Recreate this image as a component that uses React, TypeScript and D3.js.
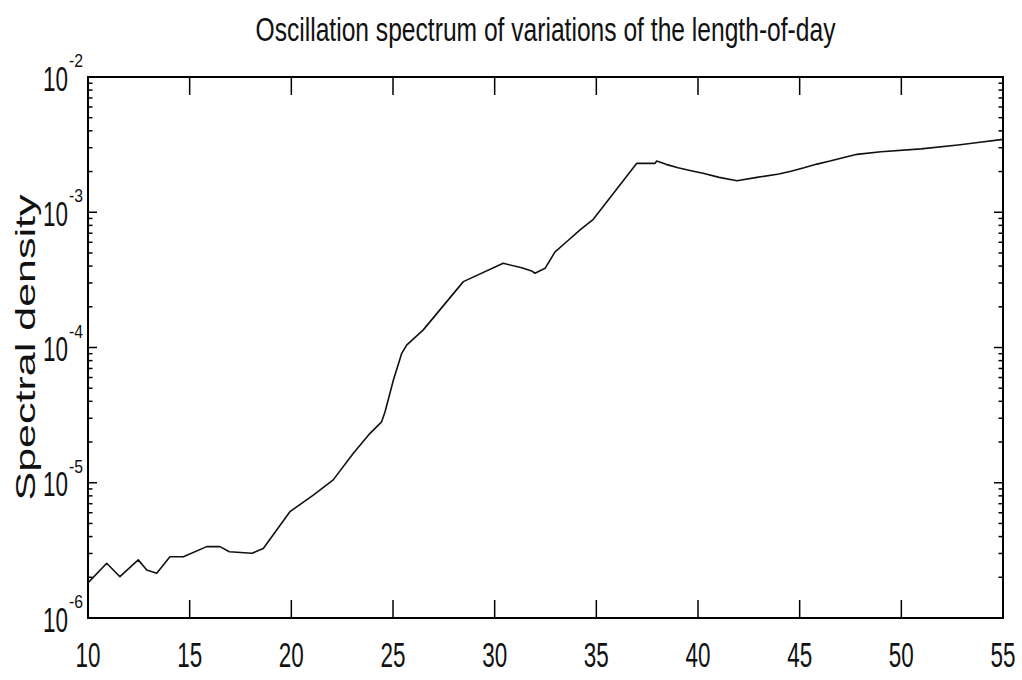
import React from "react";
import * as d3 from "d3";

const periods: number[] = [10, 10.92, 11.57, 12.47, 12.89, 13.38, 14.03, 14.69, 15.84, 16.49, 16.95, 18.07, 18.62, 19.93, 21.08, 22.06, 23.05, 23.87, 24.44, 24.61, 25.02, 25.43, 25.67, 26.49, 28.46, 30.42, 31.33, 31.82, 31.98, 32.48, 32.97, 33.54, 34.2, 34.85, 36.99, 37.89, 37.97, 38.43, 39.02, 39.66, 40.25, 41.04, 41.92, 42.9, 43.98, 44.62, 45.21, 45.85, 46.49, 47.13, 47.82, 49.0, 50.97, 52.79, 53.87, 55];
const density: number[] = [1.82e-6, 2.54e-6, 2.02e-6, 2.69e-6, 2.26e-6, 2.14e-6, 2.84e-6, 2.84e-6, 3.37e-6, 3.37e-6, 3.09e-6, 3.01e-6, 3.27e-6, 6.11e-6, 8.11e-6, 1.05e-5, 1.65e-5, 2.32e-5, 2.82e-5, 3.35e-5, 5.75e-5, 9.06e-5, 1.04e-4, 1.35e-4, 3.07e-4, 4.19e-4, 3.89e-4, 3.68e-4, 3.54e-4, 3.85e-4, 5.1e-4, 6.05e-4, 7.4e-4, 8.87e-4, 2.3e-3, 2.3e-3, 2.39e-3, 2.26e-3, 2.13e-3, 2.03e-3, 1.94e-3, 1.81e-3, 1.71e-3, 1.81e-3, 1.92e-3, 2.02e-3, 2.13e-3, 2.27e-3, 2.39e-3, 2.53e-3, 2.68e-3, 2.8e-3, 2.94e-3, 3.14e-3, 3.29e-3, 3.46e-3];

const xTicks: number[] = [10, 15, 20, 25, 30, 35, 40, 45, 50, 55];
const yExponents: number[] = [-6, -5, -4, -3, -2];
const minorMultipliers: number[] = [2, 3, 4, 5, 6, 7, 8, 9];

const title = "Oscillation spectrum of variations of the length-of-day";
const yLabel = "Spectral density";

const W = 1022;
const H = 680;
const L = 88, R = 1003, T = 77, B = 618;
const FONT = "'Liberation Sans', Arial, Helvetica, sans-serif";

export default function App() {
  const x = d3.scaleLinear().domain([10, 55]).range([L, R]);
  const y = d3.scaleLog().domain([1e-6, 1e-2]).range([B, T]);
  const pts = periods.map((p, i) => [p, density[i]] as [number, number]);
  const line = d3.line<[number, number]>().x(d => x(d[0])).y(d => y(d[1]));

  const minors: number[] = [];
  yExponents.slice(0, -1).forEach(e => minorMultipliers.forEach(m => minors.push(m * Math.pow(10, e))));

  return (
    <div style={{ position: "absolute", left: 0, top: 0 }}>
      <svg width={W} height={H} style={{ display: "block", background: "#fff" }}>
        <rect x={0} y={0} width={W} height={H} fill="#fff" />
        <text x={(L + R) / 2} y={41} textAnchor="middle" fontFamily={FONT} fontSize={33}
          textLength={580} lengthAdjust="spacingAndGlyphs" fill="#111">{title}</text>
        <text transform={`translate(35,${(T + B) / 2}) rotate(-90)`} textAnchor="middle" fontFamily={FONT}
          fontSize={28} textLength={306} lengthAdjust="spacingAndGlyphs" fill="#111">{yLabel}</text>

        {/* x ticks */}
        {xTicks.map(t => (
          <g key={"xt" + t}>
            <line x1={x(t)} x2={x(t)} y1={B} y2={B - 18} stroke="#000" strokeWidth={1.5} />
            <line x1={x(t)} x2={x(t)} y1={T} y2={T + 18} stroke="#000" strokeWidth={1.5} />
            <text x={x(t) - 12.5} y={667} fontFamily={FONT} fontSize={35} textLength={25}
              lengthAdjust="spacingAndGlyphs" fill="#111">{String(t)}</text>
          </g>
        ))}

        {/* y ticks */}
        {yExponents.map(e => {
          const yy = y(Math.pow(10, e));
          return (
            <g key={"ye" + e}>
              <line x1={L} x2={L + 9} y1={yy} y2={yy} stroke="#000" strokeWidth={1.5} />
              <line x1={R} x2={R - 9} y1={yy} y2={yy} stroke="#000" strokeWidth={1.5} />
              <text x={43} y={yy + 13.5} fontFamily={FONT} fontSize={35} textLength={25}
                lengthAdjust="spacingAndGlyphs" fill="#111">10</text>
              <text x={69} y={yy - 10} fontFamily={FONT} fontSize={19} textLength={14}
                lengthAdjust="spacingAndGlyphs" fill="#111">{String(e)}</text>
            </g>
          );
        })}
        {minors.map((v, i) => (
          <g key={"mn" + i}>
            <line x1={L} x2={L + 4.5} y1={y(v)} y2={y(v)} stroke="#000" strokeWidth={1.5} />
            <line x1={R} x2={R - 4.5} y1={y(v)} y2={y(v)} stroke="#000" strokeWidth={1.5} />
          </g>
        ))}

        <rect x={L} y={T} width={R - L} height={B - T} fill="none" stroke="#000" strokeWidth={2} />
        <path d={line(pts) || ""} fill="none" stroke="#111" strokeWidth={1.6} strokeLinejoin="round" />
      </svg>
    </div>
  );
}
